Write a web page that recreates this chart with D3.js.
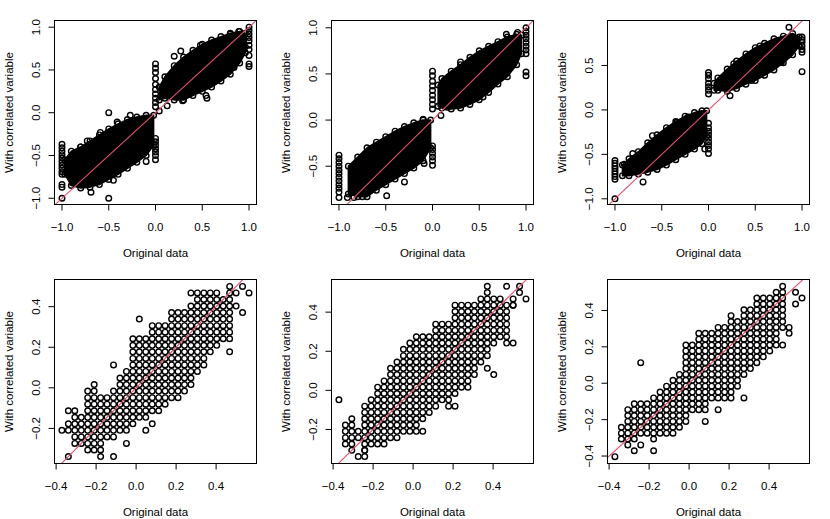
<!DOCTYPE html>
<html>
<head>
<meta charset="utf-8">
<script src="https://cdn.jsdelivr.net/npm/d3@7"></script>
<style>
body { margin: 0; background: #fff; }
svg { display: block; font-family: "Liberation Sans", Arial, Helvetica, sans-serif; }
</style>
</head>
<body>
<svg id="chart" width="830" height="519"></svg>
<script>
// ---------- top row: continuous data, x in [-1, 1] ----------
const topXLim = [-1.08, 1.08];
const topXTicks = [-1, -0.5, 0, 0.5, 1];

// panel 1
const p1YLim = [-1.073, 1.078];
const p1YTicks = [-1, -0.5, 0, 0.5, 1];
const p1NegX = [-0.97, -0.9, -0.8, -0.7, -0.6, -0.5, -0.4, -0.3, -0.2, -0.1, -0.02];
const p1NegUpper = [-0.55, -0.45, -0.4, -0.33, -0.26, -0.19, -0.13, -0.08, -0.05, -0.03, -0.03];
const p1NegLower = [-0.72, -0.85, -0.88, -0.87, -0.84, -0.78, -0.72, -0.65, -0.58, -0.5, -0.38];
const p1PosX = [0.04, 0.1, 0.2, 0.3, 0.4, 0.5, 0.6, 0.7, 0.8, 0.9, 0.96];
const p1PosUpper = [0.3, 0.42, 0.55, 0.65, 0.73, 0.8, 0.85, 0.89, 0.93, 0.95, 0.93];
const p1PosLower = [0.15, 0.17, 0.15, 0.15, 0.2, 0.25, 0.3, 0.37, 0.45, 0.58, 0.7];
const p1AtMinus1 = [-0.37, -0.41, -0.45, -0.49, -0.53, -0.57, -0.61, -0.65, -0.69, -0.72, -0.84, -0.87, -1.0];
const p1AtZero = [0.57, 0.52, 0.47, 0.4, 0.33, 0.27, 0.22, 0.17, 0.12, 0.07, -0.3, -0.34, -0.38, -0.42, -0.46, -0.5, -0.55];
const p1AtPlus1 = [1.0, 0.96, 0.92, 0.88, 0.84, 0.79, 0.74, 0.67, 0.57, 0.54];
const p1Stray = [[-0.5, 0.0], [-0.5, -1.0], [-0.69, -0.93], [-0.45, -0.79], [-0.1, -0.57], [0.54, 0.2], [0.55, 0.17],
  [-0.92, -0.62], [-0.89, -0.82], [0.2, 0.66], [0.27, 0.72], [0.8, 0.92], [0.89, 0.95], [0.96, 0.77], [0.48, 0.79],
  [0.84, 0.53], [0.29, 0.14], [0.125, 0.08], [0.04, 0.02], [-0.8, -0.4], [-0.73, -0.33], [-0.59, -0.23], [-0.41, -0.11], [-0.27, -0.03]];

// panel 2
const p2YLim = [-0.915, 1.079];
const p2YTicks = [-0.5, 0, 0.5, 1];
const p2NegX = [-0.9, -0.8, -0.7, -0.6, -0.5, -0.4, -0.3, -0.2, -0.1, -0.02];
const p2NegUpper = [-0.5, -0.4, -0.3, -0.24, -0.18, -0.12, -0.07, -0.03, 0.0, 0.0];
const p2NegLower = [-0.8, -0.83, -0.83, -0.76, -0.7, -0.64, -0.58, -0.52, -0.44, -0.3];
const p2PosX = [0.06, 0.1, 0.2, 0.3, 0.4, 0.5, 0.6, 0.7, 0.8, 0.9, 0.95];
const p2PosUpper = [0.38, 0.45, 0.53, 0.6, 0.68, 0.75, 0.8, 0.85, 0.9, 0.93, 0.92];
const p2PosLower = [0.15, 0.13, 0.12, 0.13, 0.17, 0.22, 0.3, 0.39, 0.47, 0.6, 0.72];
const p2AtMinus1 = [-0.38, -0.42, -0.46, -0.5, -0.54, -0.58, -0.62, -0.66, -0.7, -0.74, -0.78, -0.84];
const p2AtZero = [0.53, 0.48, 0.42, 0.37, 0.32, 0.27, 0.22, 0.17, 0.12, -0.28, -0.32, -0.36, -0.4, -0.44, -0.49];
const p2AtPlus1 = [1.0, 0.96, 0.92, 0.88, 0.84, 0.8, 0.76, 0.72, 0.52, 0.48];
const p2Stray = [[-0.49, -0.82], [-0.91, -0.84], [-0.84, -0.84], [-0.75, -0.83], [-0.7, -0.35], [-0.1, 0.01],
  [0.09, 0.05], [0.16, 0.14], [0.54, 0.25], [0.48, 0.25], [0.41, 0.65], [0.3, 0.63], [0.79, 0.93], [0.91, 0.95],
  [-0.3, -0.67], [-0.09, -0.47]];

// panel 3
const p3YLim = [-1.064, 1.006];
const p3YTicks = [-1, -0.5, 0, 0.5];
const p3NegX = [-0.92, -0.85, -0.75, -0.65, -0.55, -0.45, -0.35, -0.25, -0.15, -0.07, -0.02];
const p3NegUpper = [-0.62, -0.55, -0.47, -0.37, -0.28, -0.2, -0.13, -0.07, -0.03, -0.01, -0.01];
const p3NegLower = [-0.74, -0.74, -0.72, -0.7, -0.67, -0.62, -0.56, -0.5, -0.44, -0.38, -0.3];
const p3PosX = [0.06, 0.1, 0.2, 0.3, 0.4, 0.5, 0.6, 0.7, 0.8, 0.9, 0.97];
const p3PosUpper = [0.3, 0.36, 0.46, 0.55, 0.63, 0.7, 0.75, 0.8, 0.83, 0.86, 0.82];
const p3PosLower = [0.22, 0.22, 0.21, 0.24, 0.29, 0.33, 0.39, 0.45, 0.53, 0.62, 0.72];
const p3AtMinus1 = [-0.57, -0.6, -0.63, -0.66, -0.69, -0.72, -0.75, -0.78, -1.0];
const p3AtZero = [0.42, 0.39, 0.35, 0.3, 0.26, 0.22, 0.18, -0.15, -0.2, -0.24, -0.28, -0.32, -0.36, -0.4, -0.44, -0.49];
const p3AtPlus1 = [0.82, 0.79, 0.76, 0.72, 0.68, 0.65, 0.43];
const p3Stray = [[-0.7, -0.81], [-0.81, -0.49], [-0.9, -0.61], [-0.6, -0.29], [-0.34, -0.14], [-0.22, -0.08],
  [0.23, 0.16], [0.46, 0.33], [0.78, 0.54], [0.86, 0.93], [0.55, 0.72], [0.27, 0.52], [-0.16, -0.36], [-0.04, -0.44]];

// ---------- bottom row: values on a grid of step 1/31, (k + 0.5) / 31 ----------
const gridStep = 1 / 31;
const bottomXLim = [-0.408, 0.602];
const bottomXTicks = [-0.4, -0.2, 0, 0.2, 0.4];

// columns: [k, lowest j, highest j]
const p4YLim = [-0.373, 0.534];
const p4YTicks = [-0.2, 0, 0.2, 0.4];
const p4Cols = [[-12, -7, -7], [-11, -7, -6], [-10, -9, -4], [-9, -9, -5], [-8, -10, -1], [-7, -10, 0], [-6, -10, -2],
  [-5, -8, -2], [-4, -8, -1], [-3, -7, 1], [-2, -7, 2], [-1, -6, 7], [0, -5, 7], [1, -5, 7], [2, -4, 9], [3, -4, 9],
  [4, -3, 9], [5, -2, 11], [6, -2, 11], [7, -1, 11], [8, 0, 12], [9, 2, 14], [10, 3, 14], [11, 5, 14], [12, 6, 14],
  [13, 7, 13], [14, 7, 15]];
const p4Stray = [[-11, -4], [-11, -11], [-6, -11], [-4, 3], [-4, -11], [-2, -9], [0, 10], [1, -7], [2, -6],
  [14, 5], [15, 12], [16, 11], [16, 15], [17, 14], [15, 14], [8, 14]];

const p5YLim = [-0.374, 0.567];
const p5YTicks = [-0.2, 0, 0.2, 0.4];
const p5Cols = [[-11, -9, -6], [-10, -10, -5], [-9, -8, -7], [-8, -11, -3], [-7, -9, -2], [-6, -9, 0], [-5, -9, 1],
  [-4, -8, 3], [-3, -8, 4], [-2, -7, 6], [-1, -7, 7], [0, -6, 8], [1, -5, 8], [2, -4, 8], [3, -3, 10], [4, -2, 10],
  [5, -3, 10], [6, -1, 13], [7, 0, 13], [8, 0, 13], [9, 2, 13], [10, 4, 14], [11, 5, 14], [12, 7, 14], [13, 8, 14],
  [14, 7, 13], [15, 13, 14]];
const p5Stray = [[-12, -2], [-9, -11], [-8, -10], [0, -7], [1, -7], [6, -3], [11, 16], [11, 15], [14, 16],
  [16, 16], [16, 15], [17, 14], [15, 13], [11, 3], [12, 2], [15, 7]];

const p6YLim = [-0.441, 0.570];
const p6YTicks = [-0.4, -0.2, 0, 0.2, 0.4];
const p6Cols = [[-11, -10, -8], [-10, -11, -5], [-9, -10, -4], [-8, -9, -4], [-7, -9, -4], [-6, -9, -3], [-5, -9, -2],
  [-4, -9, -1], [-3, -9, 0], [-2, -8, 1], [-1, -7, 6], [0, -5, 6], [1, -5, 8], [2, -5, 8], [3, -3, 8], [4, -3, 9],
  [5, -3, 9], [6, -2, 10], [7, -1, 10], [8, 1, 12], [9, 2, 12], [10, 3, 14], [11, 4, 14], [12, 5, 14], [13, 6, 15],
  [14, 9, 15], [15, 8, 9]];
const p6Stray = [[-12, -13], [-9, -12], [-8, -11], [-6, -10], [-6, -12], [-8, 3], [2, -7], [4, -5], [6, -3], [8, -3],
  [14, 16], [16, 15], [16, 13], [17, 14], [14, 6], [6, 11]];

// ---------- layout ----------
const colOffsets = [0, 277, 553];
const rowOffsets = [0, 259];
const boxLeft = 54.5, boxTop = 20.5, boxW = 202, boxH = 184;
const fmt = v => d3.format(".1f")(v).replace("-", "\u2212");

const svg = d3.select("#chart");

function topPanel(negX, negUp, negLo, posX, posUp, posLo, atM1, at0, atP1, stray) {
  const pts = [];
  atM1.forEach(v => pts.push([-1, v]));
  at0.forEach(v => pts.push([0, v]));
  atP1.forEach(v => pts.push([1, v]));
  stray.forEach(d => pts.push(d));
  negX.forEach((v, i) => { pts.push([v, negUp[i]]); pts.push([v, negLo[i]]); });
  posX.forEach((v, i) => { pts.push([v, posUp[i]]); pts.push([v, posLo[i]]); });
  return {
    bands: [d3.zip(negX, negLo, negUp), d3.zip(posX, posLo, posUp)],
    points: pts
  };
}

function gridPanel(cols, stray) {
  const pts = [];
  cols.forEach(([k, lo, hi]) => {
    for (let j = lo; j <= hi; j++) pts.push([(k + 0.5) * gridStep, (j + 0.5) * gridStep]);
  });
  stray.forEach(([k, j]) => pts.push([(k + 0.5) * gridStep, (j + 0.5) * gridStep]));
  return { bands: [], points: pts };
}

const panels = [
  Object.assign(topPanel(p1NegX, p1NegUpper, p1NegLower, p1PosX, p1PosUpper, p1PosLower, p1AtMinus1, p1AtZero, p1AtPlus1, p1Stray),
    { col: 0, row: 0, xLim: topXLim, yLim: p1YLim, xTicks: topXTicks, yTicks: p1YTicks }),
  Object.assign(topPanel(p2NegX, p2NegUpper, p2NegLower, p2PosX, p2PosUpper, p2PosLower, p2AtMinus1, p2AtZero, p2AtPlus1, p2Stray),
    { col: 1, row: 0, xLim: topXLim, yLim: p2YLim, xTicks: topXTicks, yTicks: p2YTicks }),
  Object.assign(topPanel(p3NegX, p3NegUpper, p3NegLower, p3PosX, p3PosUpper, p3PosLower, p3AtMinus1, p3AtZero, p3AtPlus1, p3Stray),
    { col: 2, row: 0, xLim: topXLim, yLim: p3YLim, xTicks: topXTicks, yTicks: p3YTicks }),
  Object.assign(gridPanel(p4Cols, p4Stray), { col: 0, row: 1, xLim: bottomXLim, yLim: p4YLim, xTicks: bottomXTicks, yTicks: p4YTicks }),
  Object.assign(gridPanel(p5Cols, p5Stray), { col: 1, row: 1, xLim: bottomXLim, yLim: p5YLim, xTicks: bottomXTicks, yTicks: p5YTicks }),
  Object.assign(gridPanel(p6Cols, p6Stray), { col: 2, row: 1, xLim: bottomXLim, yLim: p6YLim, xTicks: bottomXTicks, yTicks: p6YTicks })
];

panels.forEach((p, idx) => {
  const g = svg.append("g").attr("transform", `translate(${colOffsets[p.col]},${rowOffsets[p.row]})`);
  const x = d3.scaleLinear().domain(p.xLim).range([boxLeft, boxLeft + boxW]);
  const y = d3.scaleLinear().domain(p.yLim).range([boxTop + boxH, boxTop]);

  g.append("clipPath").attr("id", "clip" + idx)
    .append("rect").attr("x", boxLeft).attr("y", boxTop).attr("width", boxW).attr("height", boxH);
  const plot = g.append("g").attr("clip-path", `url(#clip${idx})`);

  // dense clouds
  const area = d3.area().x(d => x(d[0])).y0(d => y(d[1])).y1(d => y(d[2]));
  plot.selectAll("path.band").data(p.bands).join("path")
    .attr("class", "band")
    .attr("d", area)
    .attr("fill", "#000")
    .attr("stroke", "#000")
    .attr("stroke-width", 1.5)
    .attr("stroke-linejoin", "round");

  // open circles
  plot.selectAll("circle.pt").data(p.points).join("circle")
    .attr("class", "pt")
    .attr("cx", d => x(d[0]))
    .attr("cy", d => y(d[1]))
    .attr("r", 2.8)
    .attr("fill", "none")
    .attr("stroke", "#000")
    .attr("stroke-width", 1.4);

  // y = x reference line
  const lo = Math.min(p.xLim[0], p.yLim[0]), hi = Math.max(p.xLim[1], p.yLim[1]);
  plot.append("line")
    .attr("x1", x(lo)).attr("y1", y(lo))
    .attr("x2", x(hi)).attr("y2", y(hi))
    .attr("stroke", "#DF536B")
    .attr("stroke-width", 1.1);

  // box
  g.append("rect")
    .attr("x", boxLeft).attr("y", boxTop).attr("width", boxW).attr("height", boxH)
    .attr("fill", "none").attr("stroke", "#000").attr("stroke-width", 1);

  // x axis
  const bottom = boxTop + boxH;
  g.append("line")
    .attr("x1", x(p.xTicks[0])).attr("x2", x(p.xTicks[p.xTicks.length - 1]))
    .attr("y1", bottom).attr("y2", bottom).attr("stroke", "#000");
  g.selectAll("line.xt").data(p.xTicks).join("line")
    .attr("class", "xt")
    .attr("x1", d => x(d)).attr("x2", d => x(d))
    .attr("y1", bottom).attr("y2", bottom + 6)
    .attr("stroke", "#000");
  g.selectAll("text.xl").data(p.xTicks).join("text")
    .attr("class", "xl")
    .attr("x", d => x(d)).attr("y", bottom + 26)
    .attr("text-anchor", "middle")
    .attr("font-size", "11.5px")
    .text(fmt);

  // y axis
  g.append("line")
    .attr("x1", boxLeft).attr("x2", boxLeft)
    .attr("y1", y(p.yTicks[0])).attr("y2", y(p.yTicks[p.yTicks.length - 1]))
    .attr("stroke", "#000");
  g.selectAll("line.yt").data(p.yTicks).join("line")
    .attr("class", "yt")
    .attr("x1", boxLeft - 6).attr("x2", boxLeft)
    .attr("y1", d => y(d)).attr("y2", d => y(d))
    .attr("stroke", "#000");
  g.selectAll("text.yl").data(p.yTicks).join("text")
    .attr("class", "yl")
    .attr("transform", d => `translate(${boxLeft - 15},${y(d)}) rotate(-90)`)
    .attr("text-anchor", "middle")
    .attr("font-size", "11.5px")
    .text(fmt);

  // titles
  g.append("text")
    .attr("x", boxLeft + boxW / 2).attr("y", bottom + 52.5)
    .attr("text-anchor", "middle")
    .attr("font-size", "11.5px")
    .text("Original data");
  g.append("text")
    .attr("transform", `translate(12.5,${boxTop + boxH / 2}) rotate(-90)`)
    .attr("text-anchor", "middle")
    .attr("font-size", "11.5px")
    .text("With correlated variable");
});
</script>
</body>
</html>
